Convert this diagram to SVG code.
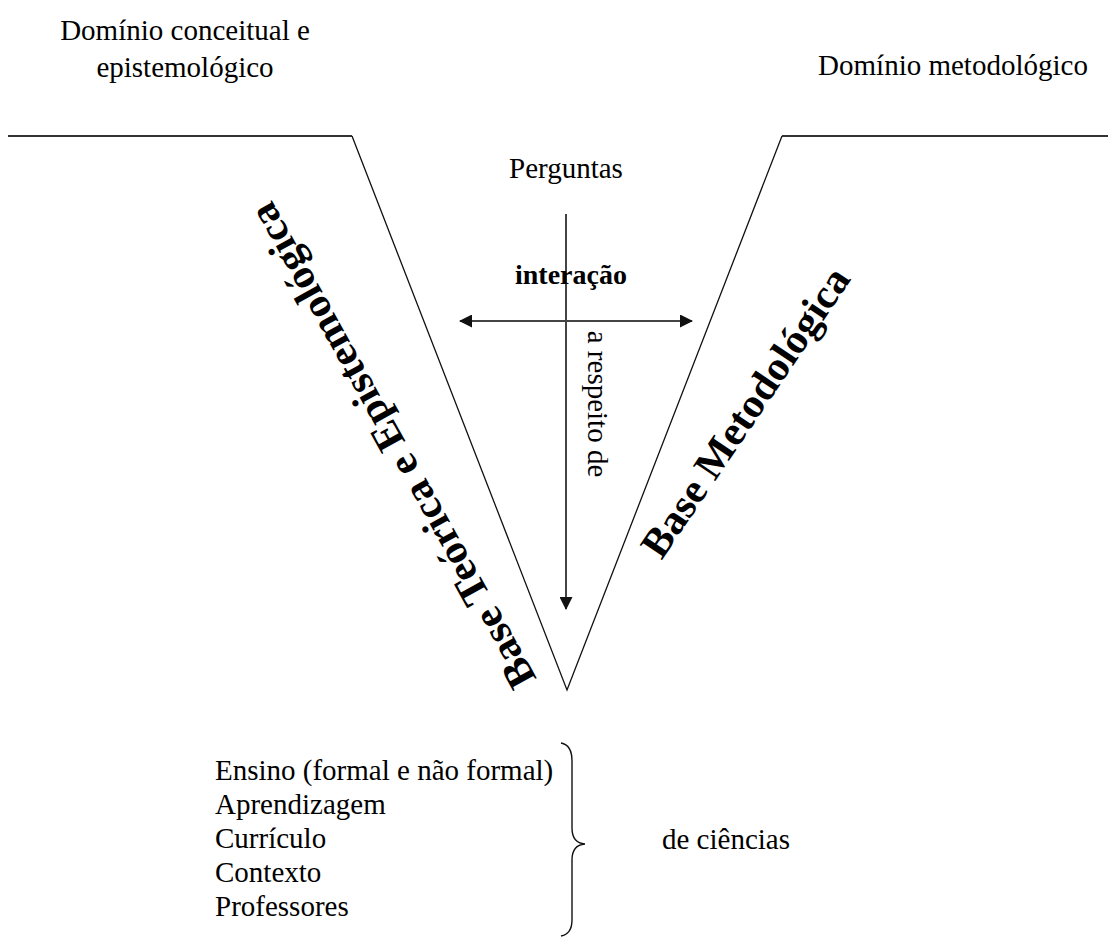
<svg xmlns="http://www.w3.org/2000/svg" width="1108" height="938" viewBox="0 0 1108 938">
<style>
.t{font-family:"Liberation Serif","Times New Roman",serif;font-size:29px;fill:#000}
.b{font-family:"Liberation Serif","Times New Roman",serif;font-weight:bold;fill:#000}
.v{fill:none;stroke:#111;stroke-width:1.3}
.h{fill:none;stroke:#333;stroke-width:2}
.ar{fill:none;stroke:#444;stroke-width:2}
</style>
<defs>
<marker id="ah" viewBox="0 0 13 13" refX="12" refY="6.5" markerWidth="13" markerHeight="13" markerUnits="userSpaceOnUse" orient="auto-start-reverse">
<path d="M0,0 L13,6.5 L0,13 Z" fill="#111"/>
</marker>
</defs>
<g id="labels-top">
<text class="t" x="185" y="40" text-anchor="middle">Domínio conceitual e</text>
<text class="t" x="185" y="77" text-anchor="middle">epistemológico</text>
<text class="t" x="953" y="75" text-anchor="middle">Domínio metodológico</text>
</g>
<g id="v-shape">
<path class="h" d="M8,136 L352,136"/>
<path class="h" d="M782,136 L1108,136"/>
<path class="v" d="M352,136 L567,690 L782,136"/>
</g>
<g id="connectors">
<path class="ar" d="M566,214 L566,609" marker-end="url(#ah)"/>
<path class="ar" d="M460,321 L692,321" marker-start="url(#ah)" marker-end="url(#ah)"/>
</g>
<g id="perguntas"><text class="t" x="566" y="178" text-anchor="middle">Perguntas</text></g>
<g id="interacao"><text class="b" x="571" y="284" font-size="28" text-anchor="middle">interação</text></g>
<g id="respeito"><text class="t" transform="translate(588,404) rotate(90)" text-anchor="middle">a respeito de</text></g>
<g id="base-teorica"><text class="b" font-size="41" transform="translate(392,446) rotate(-119)" text-anchor="middle" dy="14" textLength="548" lengthAdjust="spacingAndGlyphs">Base Teórica e Epistemológica</text></g>
<g id="base-metodologica"><text class="b" font-size="41" transform="translate(745,412) rotate(-56)" text-anchor="middle" dy="14" textLength="340" lengthAdjust="spacingAndGlyphs">Base Metodológica</text></g>
<g id="lista">
<text class="t" x="215" y="780">Ensino (formal e não formal)</text>
<text class="t" x="215" y="814">Aprendizagem</text>
<text class="t" x="215" y="848">Currículo</text>
<text class="t" x="215" y="882">Contexto</text>
<text class="t" x="215" y="916">Professores</text>
</g>
<g id="chave"><path fill="none" stroke="#111" stroke-width="1.4" d="M561,743 Q572,745 572,761 L572,828 Q572,843 585,844 Q572,845 572,860 L572,920 Q572,934 561,936"/></g>
<g id="de-ciencias"><text class="t" x="662" y="849">de ciências</text></g>
</svg>
